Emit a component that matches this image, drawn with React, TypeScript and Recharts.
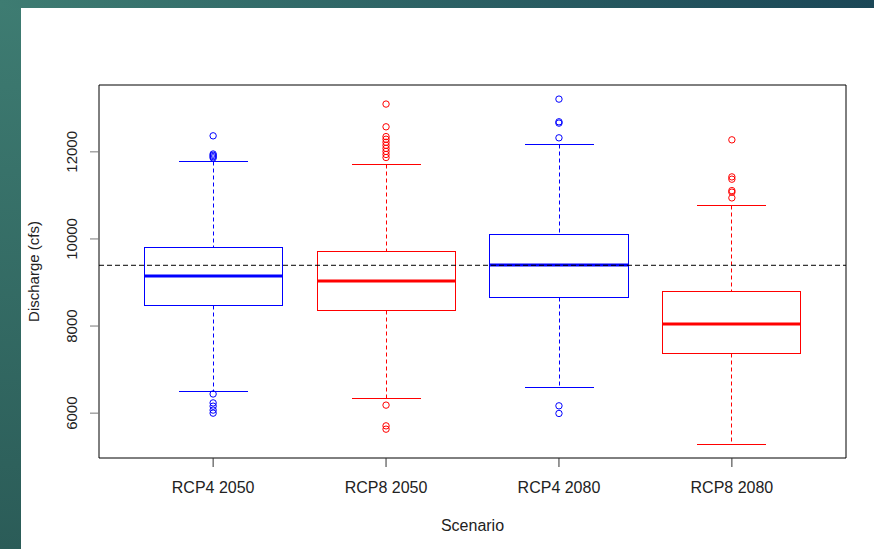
import {
  Bar,
  ComposedChart,
  ReferenceArea,
  ReferenceLine,
  Scatter,
  XAxis,
  YAxis,
} from "recharts";

const scenarios = ["RCP4 2050", "RCP8 2050", "RCP4 2080", "RCP8 2080"];
const lowerWhisker = [6506, 6345, 6598, 5281];
const firstQuartile = [8483, 8368, 8667, 7372];
const medians = [9142, 9028, 9395, 8046];
const thirdQuartile = [9823, 9731, 10122, 8798];
const upperWhisker = [11786, 11731, 12191, 10775];
const outliers = [
  [12368, 11950, 11920, 11890, 11860, 6440, 6235, 6160, 6070, 6000],
  [13097, 12575, 12350, 12290, 12220, 12150, 12080, 12010, 11940, 11870, 6184, 5708, 5632],
  [13211, 12690, 12660, 12322, 6168, 5993],
  [12276, 11425, 11372, 11110, 11074, 10943],
];
const baselineDischarge = 9395;
const yTicks = [6000, 8000, 10000, 12000];

const colorFor = (name: string) => (name.startsWith("RCP4") ? "#0000ff" : "#ff0000");

const boxes = scenarios.map((name, i) => ({
  pos: i + 1,
  name,
  lower: lowerWhisker[i],
  q1: firstQuartile[i],
  median: medians[i],
  q3: thirdQuartile[i],
  upper: upperWhisker[i],
}));

const outlierPoints = scenarios.flatMap((name, i) =>
  outliers[i].map((v) => ({ pos: i + 1, value: v, name }))
);

const BoxShape = (props: any) => {
  const { x, y, width, height, payload } = props;
  const top = Math.min(y, y + height);
  const h = Math.abs(height);
  const lo = payload.lower;
  const hi = payload.upper;
  // pixel position of a value, taken from the bar's own scaled extent
  const py = (v: number) => Math.round(top + (h * (hi - v)) / (hi - lo)) + 0.5;
  const cx = Math.round(x + width / 2) + 0.5;
  const left = Math.round(x) + 0.5;
  const right = Math.round(x + width) + 0.5;
  const cap = width / 4;
  const c = colorFor(payload.name);
  return (
    <g>
      <line x1={cx} x2={cx} y1={py(hi)} y2={py(payload.q3)} stroke={c} strokeDasharray="4 3" />
      <line x1={cx} x2={cx} y1={py(payload.q1)} y2={py(lo)} stroke={c} strokeDasharray="4 3" />
      <line x1={cx - cap} x2={cx + cap} y1={py(hi)} y2={py(hi)} stroke={c} />
      <line x1={cx - cap} x2={cx + cap} y1={py(lo)} y2={py(lo)} stroke={c} />
      <rect
        x={left}
        y={py(payload.q3)}
        width={right - left}
        height={py(payload.q1) - py(payload.q3)}
        fill="none"
        stroke={c}
      />
      <line x1={left} x2={right} y1={py(payload.median) - 0.5} y2={py(payload.median) - 0.5} stroke={c} strokeWidth={3} />
    </g>
  );
};

const OutlierShape = (props: any) => {
  const { cx, cy, payload } = props;
  return <circle cx={cx} cy={cy} r={3.2} fill="none" stroke={colorFor(payload.name)} strokeWidth={1} />;
};

const YTick = (props: any) => {
  const { x, y, payload } = props;
  const tx = x - 11;
  return (
    <text x={tx} y={y} transform={`rotate(-90, ${tx}, ${y})`} textAnchor="middle" fontSize={15} fill="#222">
      {payload.value}
    </text>
  );
};

const XTick = (props: any) => {
  const { x, y, payload } = props;
  return (
    <text x={x} y={y + 24} textAnchor="middle" fontSize={16} fill="#222">
      {scenarios[payload.value - 1]}
    </text>
  );
};

export default function App() {
  return (
    <div
      style={{
        position: "fixed",
        left: 0,
        top: 0,
        width: 874,
        height: 549,
        background: "linear-gradient(to bottom, #3e7c72, #2b5c58)",
        fontFamily: "'Liberation Sans', Arial, sans-serif",
      }}
    >
      <div
        style={{
          position: "absolute",
          left: 0,
          top: 0,
          width: 874,
          height: 8,
          background: "linear-gradient(to right, #3e7c72, #1b4757)",
        }}
      />
      <div style={{ position: "absolute", left: 21, top: 8, right: 0, bottom: 0, background: "#fff" }} />
      <div style={{ position: "absolute", left: 0, top: 0 }}>
        <ComposedChart
          width={874}
          height={549}
          data={boxes}
          margin={{ top: 85, right: 28, bottom: 51, left: 39 }}
        >
          <XAxis
            dataKey="pos"
            type="number"
            domain={[0.34, 4.66]}
            ticks={[1, 2, 3, 4]}
            height={40}
            axisLine={false}
            tickSize={9}
            tickLine={{ stroke: "#333" }}
            tick={<XTick />}
            label={{
              content: (p: any) => (
                <text
                  x={p.viewBox.x + p.viewBox.width / 2}
                  y={p.viewBox.y + 73}
                  textAnchor="middle"
                  fontSize={16}
                  fill="#222"
                >
                  Scenario
                </text>
              ),
            }}
          />
          <YAxis
            type="number"
            domain={[4970, 13535]}
            ticks={yTicks}
            width={60}
            axisLine={false}
            tickSize={9}
            tickLine={{ stroke: "#777" }}
            tick={<YTick />}
            allowDataOverflow
            label={{
              content: () => (
                <text
                  x={38.5}
                  y={271.5}
                  transform="rotate(-90, 38.5, 271.5)"
                  textAnchor="middle"
                  fontSize={15}
                  fill="#222"
                >
                  Discharge (cfs)
                </text>
              ),
            }}
          />
          <ReferenceArea
            x1={0.34}
            x2={4.66}
            y1={4970}
            y2={13535}
            fill="none"
            stroke="#000"
            strokeWidth={1}
            fillOpacity={0}
          />
          <ReferenceLine y={baselineDischarge} stroke="#000" strokeDasharray="5 3" />
          <Bar
            dataKey={(d: any) => [d.lower, d.upper]}
            barSize={138}
            shape={<BoxShape />}
            isAnimationActive={false}
          />
          <Scatter data={outlierPoints} dataKey="value" shape={<OutlierShape />} isAnimationActive={false} />
        </ComposedChart>
      </div>
    </div>
  );
}
